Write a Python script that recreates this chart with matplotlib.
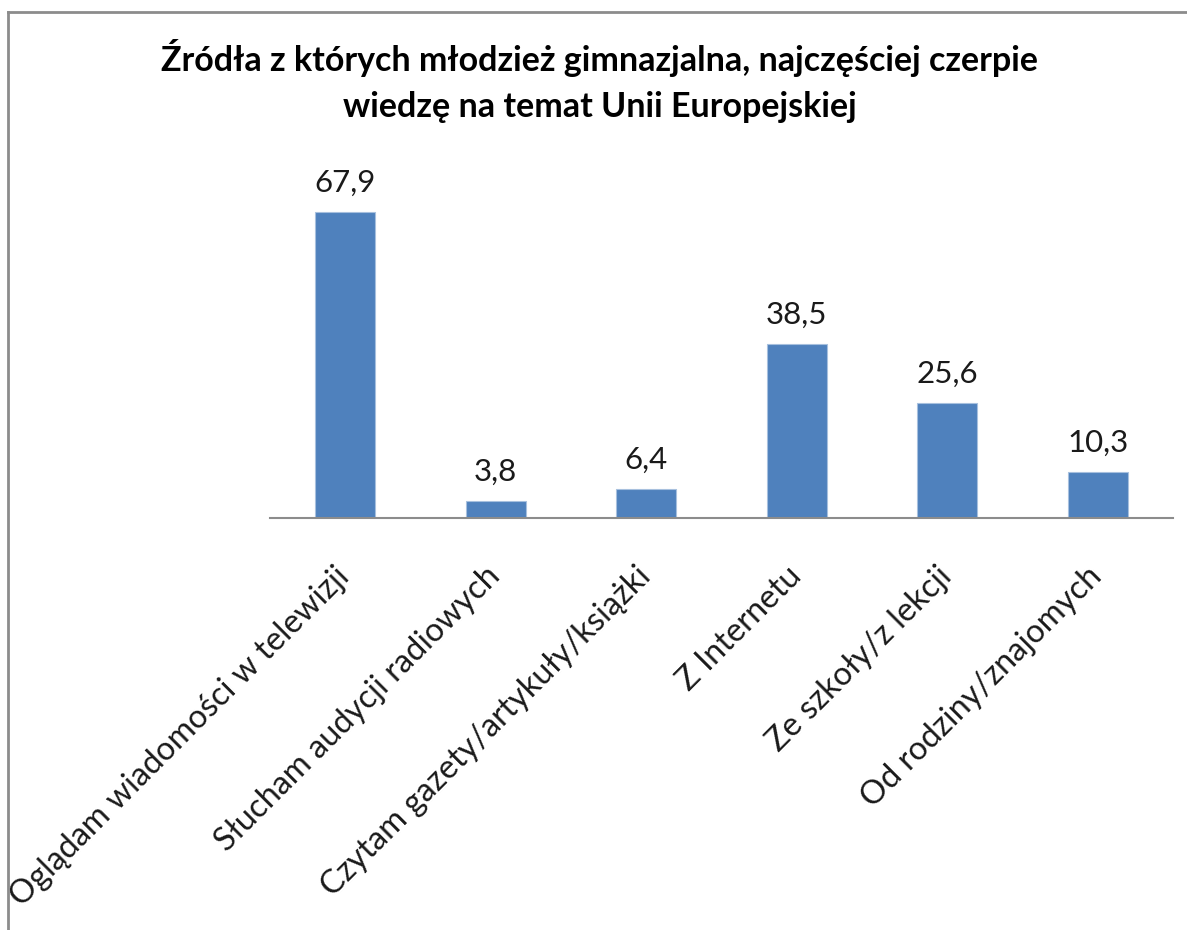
import matplotlib as mpl
import matplotlib.pyplot as plt
from matplotlib.lines import Line2D
from matplotlib.transforms import ScaledTranslation

mpl.rcParams['font.family'] = ['Lato', 'DejaVu Sans']

# data
categories = ["Oglądam wiadomości w telewizji",
              "Słucham audycji radiowych",
              "Czytam gazety/artykuły/książki",
              "Z Internetu",
              "Ze szkoły/z lekcji",
              "Od rodziny/znajomych"]
values = [67.9, 3.8, 6.4, 38.5, 25.6, 10.3]
value_labels = ["67,9", "3,8", "6,4", "38,5", "25,6", "10,3"]

title = ("Źródła z których młodzież gimnazjalna, najczęściej czerpie\n"
         "wiedzę na temat Unii Europejskiej")

fig = plt.figure(figsize=(11.87, 9.3), dpi=100)
ax = fig.add_axes([0.2275, 0.443, 0.7607, 0.3877])

x = range(len(categories))
bars = ax.bar(x, values, width=0.4, color="#4F81BD", edgecolor="#A7C0DE", linewidth=0.8)

for b, lab in zip(bars, value_labels):
    ax.annotate(lab, (b.get_x() + b.get_width() / 2, b.get_height()),
                xytext=(0, 11), textcoords="offset points",
                ha="center", va="bottom", fontsize=22.5, color="#1a1a1a")

ax.set_xlim(-0.5, len(categories) - 0.5)
ax.set_ylim(0, 80)
ax.set_yticks([])
for s in ["top", "right", "left"]:
    ax.spines[s].set_visible(False)
ax.spines["bottom"].set_color("#8c8c8c")
ax.spines["bottom"].set_linewidth(1.5)

ax.set_xticks(list(x))
ax.set_xticklabels(categories, rotation=45, ha="right", rotation_mode="anchor",
                   fontsize=23.5, color="#1a1a1a")
ax.tick_params(axis="x", length=0, pad=26)
shift = ScaledTranslation(-11 / 100, -7 / 100, fig.dpi_scale_trans)
for lab in ax.get_xticklabels():
    lab.set_transform(lab.get_transform() + shift)

fig.text(0.505, 0.958, title, ha="center", va="top", fontsize=24.5,
         fontweight="bold", linespacing=1.55)

# chart area frame (only top and left visible in the crop)
fig.add_artist(Line2D([8 / 1187, 8 / 1187], [0, 1 - 12 / 930], transform=fig.transFigure,
                      color="#8c8c8c", linewidth=2))
fig.add_artist(Line2D([8 / 1187, 1], [1 - 12 / 930, 1 - 12 / 930], transform=fig.transFigure,
                      color="#8c8c8c", linewidth=2))

fig.savefig("out.png", dpi=100)
